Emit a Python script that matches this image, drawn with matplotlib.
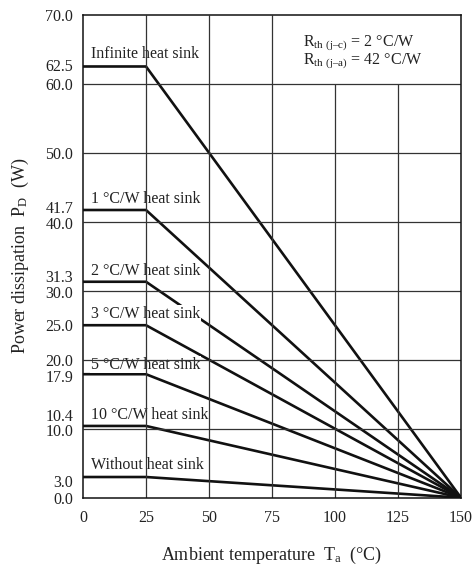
import matplotlib
matplotlib.use("Agg")
import matplotlib.pyplot as plt
from matplotlib.transforms import ScaledTranslation

# ---- data ----
ta_points = [0, 25, 150]                      # ambient temperature breakpoints (°C)
curve_labels = ["Infinite heat sink", "1 °C/W heat sink", "2 °C/W heat sink",
                "3 °C/W heat sink", "5 °C/W heat sink", "10 °C/W heat sink",
                "Without heat sink"]
plateau_pd = [62.5, 41.7, 31.3, 25.0, 17.9, 10.4, 3.0]   # W, flat up to 25 °C
end_pd = [0.0, 0.0, 0.0, 0.0, 0.0, 0.0, 0.0]             # W at 150 °C

y_ticks = [0.0, 3.0, 10.0, 10.4, 17.9, 20.0, 25.0, 30.0, 31.3, 40.0, 41.7,
           50.0, 60.0, 62.5, 70.0]
y_tick_labels = ["0.0", "3.0", "10.0", "10.4", "17.9", "20.0", "25.0", "30.0",
                 "31.3", "40.0", "41.7", "50.0", "60.0", "62.5", "70.0"]
x_ticks = [0, 25, 50, 75, 100, 125, 150]
x_tick_labels = ["0", "25", "50", "75", "100", "125", "150"]

# vertical shift (pixels) for crowded y tick labels
y_label_shift = {"3.0": -4, "10.4": 11, "10.0": -1, "17.9": -2, "31.3": 6,
                 "30.0": -1, "41.7": 3, "40.0": -1, "62.5": 1}
# vertical offset (points) of each curve label above its plateau
label_offset = [6, 5, 5, 5, 4, 5, 5.5]

plt.rcParams["font.family"] = ["Liberation Serif", "DejaVu Serif"]
plt.rcParams["mathtext.fontset"] = "custom"
plt.rcParams["mathtext.rm"] = "Liberation Serif"
plt.rcParams["mathtext.it"] = "Liberation Serif"

fs = 11.5
fs_axis = 13
fig = plt.figure(figsize=(4.73, 5.67), dpi=100)
ax = fig.add_axes([0.1755, 0.1222, 0.9746 - 0.1755, 0.974 - 0.1222])

ax.set_xlim(0, 150)
ax.set_ylim(0, 70)

# curves
for lab, p0, p1, off in zip(curve_labels, plateau_pd, end_pd, label_offset):
    ax.plot(ta_points, [p0, p0, p1], color="#111111", lw=1.9, zorder=2,
            solid_capstyle="butt")
    ax.annotate(lab, xy=(3, p0), xytext=(0, off), textcoords="offset points",
                ha="left", va="baseline", fontsize=fs, color="#222222",
                zorder=3,
                bbox=dict(boxstyle="square,pad=0.05", fc="white", ec="none"))

# grid (drawn above labels, leaving the info box open)
gcol = "#333333"
ax.vlines([25, 50, 75], 0, 70, color=gcol, lw=0.9, zorder=4)
ax.vlines([100, 125], 0, 60, color=gcol, lw=0.9, zorder=4)
ax.hlines([10, 20, 30, 40, 50, 60], 0, 150, color=gcol, lw=0.9, zorder=4)

ax.text(87.5, 65.9, "$\\mathregular{R_{th\\ (j\u2013c)}}$ = 2 °C/W",
        fontsize=fs, ha="left", va="center", color="#222222", zorder=5)
ax.text(87.5, 63.3, "$\\mathregular{R_{th\\ (j\u2013a)}}$ = 42 °C/W",
        fontsize=fs, ha="left", va="center", color="#222222", zorder=5)

ax.set_xticks(x_ticks)
ax.set_xticklabels(x_tick_labels, fontsize=fs, color="#222222")
ax.set_yticks(y_ticks)
ax.set_yticklabels(y_tick_labels, fontsize=fs, color="#222222")
ax.tick_params(length=0, pad=7)
ax.tick_params(axis="x", pad=9)

for lbl in ax.get_yticklabels():
    dy = y_label_shift.get(lbl.get_text(), 0)
    if dy:
        lbl.set_transform(lbl.get_transform() +
                          ScaledTranslation(0, dy / 100.0, fig.dpi_scale_trans))

for s in ax.spines.values():
    s.set_color("#111111")
    s.set_linewidth(1.1)
    s.set_zorder(6)

ax.set_xlabel("Ambient temperature  $\\mathregular{T_a}$  (°C)", fontsize=fs_axis,
              color="#222222", va="center")
ax.xaxis.set_label_coords(0.5, -0.119)
ax.set_ylabel("Power dissipation  $\\mathregular{P_D}$  (W)", fontsize=fs_axis,
              color="#222222", va="center", ha="center")
ax.yaxis.set_label_coords(-0.165, 0.5)

fig.savefig("out.png", dpi=100)
